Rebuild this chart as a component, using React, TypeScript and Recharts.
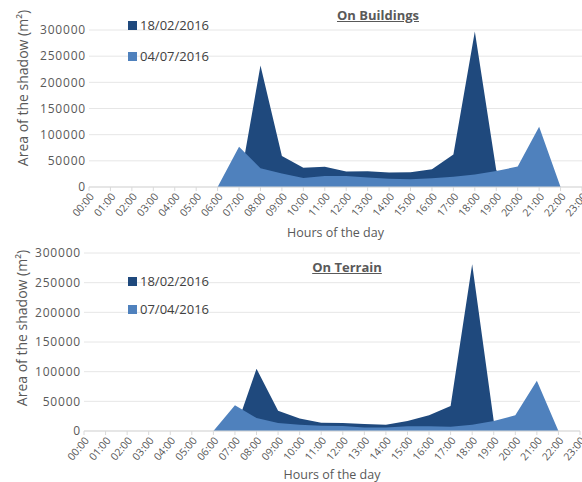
import { AreaChart, Area, XAxis, YAxis, CartesianGrid, Legend } from 'recharts';

const HOURS = [
  '00:00', '01:00', '02:00', '03:00', '04:00', '05:00', '06:00', '07:00',
  '08:00', '09:00', '10:00', '11:00', '12:00', '13:00', '14:00', '15:00',
  '16:00', '17:00', '18:00', '19:00', '20:00', '21:00', '22:00', '23:00',
];
const Y_TICKS = [0, 50000, 100000, 150000, 200000, 250000, 300000];

// On Buildings
const BUILDINGS_FEB = [0, 0, 0, 0, 0, 0, 0, 0, 232000, 59000, 37000, 38500, 29500, 30000, 27500, 28000, 34000, 62000, 297000, 32000, 0, 0, 0, 0];
const BUILDINGS_JUL = [0, 0, 0, 0, 0, 0, 0, 77000, 36000, 26000, 17000, 21000, 21000, 18000, 16000, 15000, 16500, 19500, 24000, 30500, 39000, 115000, 0, 0];

// On Terrain
const TERRAIN_FEB = [0, 0, 0, 0, 0, 0, 0, 0, 105000, 34000, 21000, 14000, 13500, 12000, 10500, 17000, 26500, 42000, 281000, 17000, 0, 0, 0, 0];
const TERRAIN_APR = [0, 0, 0, 0, 0, 0, 0, 43500, 22000, 13500, 10500, 9000, 8500, 6000, 6000, 8000, 8000, 7000, 10500, 17000, 26500, 84500, 0, 0];

const DARK = '#1F497D';
const LIGHT = '#4F81BD';
const TEXT = '#595959';
const FONT = '"Open Sans", sans-serif';
const SERIES_ORDER = ['feb', 'other'];

const makeLegend = (gap: number) => (props: any) => {
  const items = [...(props.payload || [])].sort(
    (a: any, b: any) => SERIES_ORDER.indexOf(a.dataKey) - SERIES_ORDER.indexOf(b.dataKey),
  );
  return (
    <div style={{ fontFamily: FONT, fontSize: 13, color: '#404040' }}>
      {items.map((p: any, i: number) => (
        <div key={i} style={{ display: 'flex', alignItems: 'center', height: 18, marginBottom: i === 0 ? gap : 0 }}>
          <span style={{ width: 9, height: 9, background: p.color, marginRight: 3, display: 'inline-block' }} />
          <span>{p.value}</span>
        </div>
      ))}
    </div>
  );
};

const ShadowChart = ({
  top, height, title, titleX, titleY, feb, other, otherName,
  margin, yWidth, xHeight, legendTop, legendGap, yLabelY, yLabelX,
}: any) => {
  const data = HOURS.map((h, i) => ({ hour: h, feb: feb[i], other: other[i] }));
  return (
    <div style={{ position: 'absolute', left: 0, top, width: 582, height }}>
      <AreaChart width={582} height={height} data={data} margin={margin}>
        <CartesianGrid vertical={false} stroke="#e6e6e6" />
        <XAxis
          dataKey="hour"
          interval={0}
          height={xHeight}
          angle={-50}
          textAnchor="end"
          tickSize={4}
          tickMargin={1}
          tick={{ fontSize: 10.5, fill: TEXT, fontFamily: FONT }}
          tickLine={{ stroke: '#d9d9d9' }}
          axisLine={{ stroke: '#d9d9d9' }}
          label={{ value: 'Hours of the day', position: 'insideBottom', offset: 3, fill: TEXT, fontSize: 12.5, fontFamily: FONT }}
        />
        <YAxis
          width={yWidth}
          domain={[0, 300000]}
          ticks={Y_TICKS}
          axisLine={false}
          tickLine={false}
          tickSize={0}
          tickMargin={3}
          tick={{ fontSize: 12, fill: TEXT, fontFamily: FONT, letterSpacing: 0.8 }}
        />
        <Legend
          layout="vertical"
          align="center"
          verticalAlign="middle"
          content={makeLegend(legendGap)}
          wrapperStyle={{ left: 128, top: legendTop, width: 120 }}
        />
        <Area type="linear" dataKey="feb" name="18/02/2016" fill={DARK} fillOpacity={1} stroke="none" isAnimationActive={false} />
        <Area type="linear" dataKey="other" name={otherName} fill={LIGHT} fillOpacity={1} stroke="none" isAnimationActive={false} />
      </AreaChart>
      <div
        style={{
          position: 'absolute', left: titleX, top: titleY, transform: 'translate(-50%, -50%)',
          fontFamily: FONT, fontWeight: 700, fontSize: 13, color: TEXT, textDecoration: 'underline', whiteSpace: 'nowrap',
        }}
      >
        {title}
      </div>
      <div
        style={{
          position: 'absolute', left: yLabelX, top: yLabelY, transform: 'translate(-50%, -50%) rotate(-90deg)',
          fontFamily: FONT, fontSize: 14, color: TEXT, whiteSpace: 'nowrap',
        }}
      >
        Area of the shadow (m²)
      </div>
    </div>
  );
};

export default function App() {
  return (
    <div style={{ position: 'absolute', left: 0, top: 0, width: 582, height: 482, background: '#fff' }}>
      <ShadowChart
        top={0}
        height={240}
        title="On Buildings"
        titleX={378}
        titleY={15}
        feb={BUILDINGS_FEB}
        other={BUILDINGS_JUL}
        otherName="04/07/2016"
        margin={{ top: 30, right: 0, bottom: 0, left: 0 }}
        yWidth={89}
        xHeight={53}
        legendTop={16}
        legendGap={13}
        yLabelX={22}
        yLabelY={88}
      />
      <ShadowChart
        top={240}
        height={242}
        title="On Terrain"
        titleX={347}
        titleY={27}
        feb={TERRAIN_FEB}
        other={TERRAIN_APR}
        otherName="07/04/2016"
        margin={{ top: 13, right: 2, bottom: 0, left: 0 }}
        yWidth={84}
        xHeight={51}
        legendTop={32}
        legendGap={10}
        yLabelX={21}
        yLabelY={88}
      />
    </div>
  );
}
